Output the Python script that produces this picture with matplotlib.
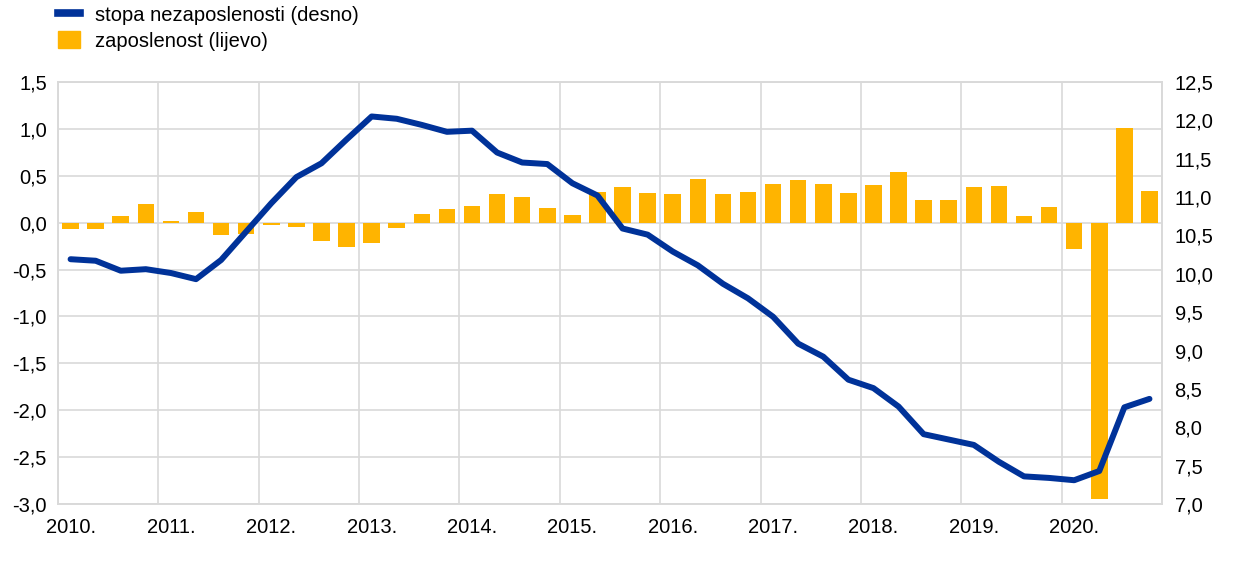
import matplotlib
matplotlib.use('Agg')
from matplotlib import pyplot as plt
from matplotlib.lines import Line2D
from matplotlib.patches import Patch
import numpy as np

plt.rcParams['font.family'] = ['Liberation Sans', 'DejaVu Sans']

# quarterly data, 2010 Q1 .. 2020 Q4
years = ['2010.', '2011.', '2012.', '2013.', '2014.', '2015.',
         '2016.', '2017.', '2018.', '2019.', '2020.']

# employment growth, q-o-q % (left axis)
employment = [-0.07, -0.07, 0.07, 0.20,
              0.02, 0.11, -0.13, -0.12,
              -0.03, -0.05, -0.20, -0.26,
              -0.22, -0.06, 0.09, 0.15,
              0.18, 0.30, 0.27, 0.155,
              0.08, 0.33, 0.38, 0.32,
              0.30, 0.47, 0.31, 0.33,
              0.41, 0.45, 0.415, 0.32,
              0.40, 0.535, 0.24, 0.245,
              0.38, 0.39, 0.07, 0.165,
              -0.28, -2.95, 1.01, 0.34]

# unemployment rate, % (right axis)
unemployment = [10.19, 10.17, 10.04, 10.06,
                10.01, 9.93, 10.18, 10.55,
                10.92, 11.26, 11.44, 11.75,
                12.05, 12.02, 11.94, 11.85,
                11.865, 11.58, 11.45, 11.43,
                11.18, 11.02, 10.59, 10.51,
                10.29, 10.11, 9.87, 9.68,
                9.44, 9.09, 8.92, 8.62,
                8.51, 8.27, 7.91, 7.84,
                7.77, 7.55, 7.36, 7.34,
                7.31, 7.43, 8.26, 8.37]

blue = '#003299'
yellow = '#FFB400'
grid = '#d9d9d9'
fs = 14.5

x = np.arange(len(employment))

fig = plt.figure(figsize=(12.4, 5.73), dpi=100)
ax = fig.add_axes([0.0468, 0.1204, 0.8903, 0.7366])
ax2 = ax.twinx()

ax.bar(x, employment, width=0.66, color=yellow, zorder=2)
ax2.plot(x, unemployment, color=blue, lw=4.3, solid_capstyle='round', zorder=3)

ax.set_xlim(-0.5, len(x) - 0.5)
ax.set_ylim(-3.0, 1.5)
ax2.set_ylim(7.0, 12.5)

lticks = np.arange(-3.0, 1.51, 0.5)
ax.set_yticks(lticks)
ax.set_yticklabels([('%.1f' % t).replace('.', ',') for t in lticks])
rticks = np.arange(7.0, 12.51, 0.5)
ax2.set_yticks(rticks)
ax2.set_yticklabels([('%.1f' % t).replace('.', ',') for t in rticks])

ax.set_xticks(np.arange(0, len(x), 4))
ax.set_xticklabels(years)
ax.set_xticks(np.arange(-0.5, len(x), 4), minor=True)

ax.grid(axis='y', color=grid, lw=1.2, zorder=0)
ax.grid(axis='x', which='minor', color=grid, lw=1.2, zorder=0)
ax.set_axisbelow(True)

for a in (ax, ax2):
    for s in a.spines.values():
        s.set_color(grid)
        s.set_linewidth(1.2)
    a.tick_params(length=0, labelsize=fs, colors='black')
    a.tick_params(axis='x', which='minor', length=0)
ax.tick_params(axis='y', pad=8)
ax2.tick_params(axis='y', pad=9)
ax.tick_params(axis='x', pad=10)

handles = [Line2D([0], [0], color=blue, lw=5.5),
           Patch(color=yellow)]
labels = ['stopa nezaposlenosti (desno)', 'zaposlenost (lijevo)']
fig.legend(handles, labels, loc='upper left', bbox_to_anchor=(0.0468, 0.99),
           frameon=False, fontsize=fs, handlelength=1.1, handleheight=0.9,
           handletextpad=0.75, labelspacing=0.32, borderpad=0, borderaxespad=0)

fig.savefig('out.png', dpi=100)
